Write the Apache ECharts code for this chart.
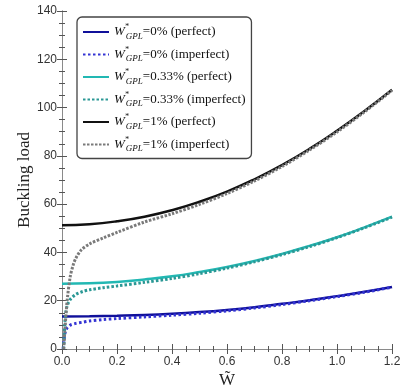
<!DOCTYPE html>
<html>
<head>
<meta charset="utf-8">
<script src="https://cdn.jsdelivr.net/npm/echarts@6/dist/echarts.min.js"></script>
<style>html,body{margin:0;padding:0;background:#fff}#c{width:400px;height:392px}</style>
</head>
<body>
<div id="c"></div>
<script>
// ---- data ----
var seriesNames = ['=0% (perfect)', '=0% (imperfect)', '=0.33% (perfect)', '=0.33% (imperfect)', '=1% (perfect)', '=1% (imperfect)'];
var xTicks = [0, 0.2, 0.4, 0.6, 0.8, 1.0, 1.2];
var yTicks = [0, 20, 40, 60, 80, 100, 120, 140];

var wPerfect = [0, 0.1, 0.2, 0.3, 0.4, 0.5, 0.6, 0.7, 0.8, 0.9, 1.0, 1.1, 1.2];
var gpl0Perfect   = [13.5, 13.6, 13.8, 14.1, 14.6, 15.3, 16.2, 17.3, 18.7, 20.2, 21.9, 23.7, 25.7];
var gpl033Perfect = [27.0, 27.2, 27.8, 28.8, 30.1, 31.9, 34.0, 36.5, 39.4, 42.7, 46.3, 50.4, 54.8];
var gpl1Perfect   = [51.3, 51.7, 52.9, 54.8, 57.5, 61.0, 65.2, 70.3, 76.2, 82.9, 90.4, 98.6, 107.4];

var wImp0 = [0.004, 0.007, 0.011, 0.015, 0.02, 0.03, 0.05, 0.075, 0.1, 0.15, 0.2, 0.3, 0.4, 0.5, 0.6, 0.7, 0.8, 0.9, 1.0, 1.1, 1.2];
var gpl0Imperfect = [0, 3.5, 6.6, 8.0, 9.0, 9.9, 10.6, 11.1, 11.6, 12.2, 12.6, 13.3, 14.0, 14.8, 15.8, 17.0, 18.4, 20.0, 21.7, 23.5, 25.6];

var wImp033 = [0.006, 0.008, 0.011, 0.015, 0.02, 0.03, 0.05, 0.075, 0.1, 0.15, 0.2, 0.3, 0.4, 0.5, 0.6, 0.7, 0.8, 0.9, 1.0, 1.1, 1.2];
var gpl033Imperfect = [0, 5, 12, 16, 18.3, 20.5, 22.6, 23.8, 24.5, 25.4, 26.1, 27.6, 29.2, 31.2, 33.5, 36.1, 39.1, 42.4, 46.1, 50.2, 54.6];

var wImp1 = [0.006, 0.01, 0.015, 0.02, 0.03, 0.04, 0.05, 0.07, 0.1, 0.15, 0.2, 0.3, 0.4, 0.5, 0.6, 0.7, 0.8, 0.9, 1.0, 1.1, 1.2];
var gpl1Imperfect = [0, 7, 15, 21.5, 30, 34.5, 37.5, 41, 43.5, 46, 48.3, 52.6, 56.0, 59.9, 64.4, 69.6, 75.6, 82.4, 89.9, 98.2, 107.1];

function pairs(xs, ys) { return xs.map(function (x, i) { return [x, ys[i]]; }); }

var chart = echarts.init(document.getElementById('c'), null, {renderer: 'canvas'});

var axisLineStyle = {color: '#8a8a8a', width: 1};
var tickStyle = {color: '#555', width: 1};

function lineSeries(name, data, color, width, type, smooth) {
  return {
    name: name, type: 'line', data: data, showSymbol: false, symbol: 'none',
    smooth: smooth, xAxisIndex: 0, yAxisIndex: 0,
    lineStyle: {color: color, width: width, type: type},
    itemStyle: {color: color},
    emphasis: {disabled: true}, animation: false
  };
}

var option = {
  animation: false,
  grid: {left: 62, right: 8, top: 11, bottom: 43, containLabel: false, outerBoundsMode: 'none'},
  legend: {
    orient: 'vertical', left: 77, top: 17,
    borderColor: '#444', borderWidth: 1.3, borderRadius: 5,
    padding: [6, 6, 5, 5], itemWidth: 26, itemHeight: 10, itemGap: 4.5,
    data: seriesNames,
    itemStyle: {opacity: 0},
    formatter: function (n) { return '{w|W}{s|*}{g|GPL}{t|' + n + '}'; },
    textStyle: {
      fontFamily: 'Liberation Serif', fontSize: 13, color: '#111',
      rich: {
        w: {fontFamily: 'Liberation Serif', fontStyle: 'italic', fontSize: 13, lineHeight: 18, color: '#111'},
        s: {fontFamily: 'Liberation Serif', fontStyle: 'italic', fontSize: 8, lineHeight: 9, verticalAlign: 'top', color: '#111', width: 1},
        g: {fontFamily: 'Liberation Serif', fontStyle: 'italic', fontSize: 9, lineHeight: 9, verticalAlign: 'bottom', color: '#111'},
        t: {fontFamily: 'Liberation Serif', fontSize: 13, lineHeight: 18, color: '#111'}
      }
    }
  },
  xAxis: [{
    type: 'value', min: 0, max: 1.2, interval: 0.2, position: 'bottom',
    name: 'W\u0303', nameLocation: 'middle', nameGap: 23, nameMoveOverlap: false,
    nameTextStyle: {fontFamily: 'Liberation Serif', fontSize: 17, color: '#222'},
    axisLine: {show: true, lineStyle: axisLineStyle},
    axisTick: {show: true, inside: true, length: 5, lineStyle: tickStyle},
    minorTick: {show: true, splitNumber: 4, length: 3, lineStyle: tickStyle},
    splitLine: {show: false},
    axisLabel: {fontFamily: 'Liberation Sans', fontSize: 12, color: '#333', margin: 7,
      formatter: function (v) { return v.toFixed(1); }}
  }, {
    type: 'value', min: 0, max: 1.2, interval: 0.2, position: 'top',
    axisLine: {show: true, lineStyle: axisLineStyle},
    axisTick: {show: true, inside: true, length: 5, lineStyle: tickStyle},
    minorTick: {show: true, splitNumber: 4, length: 3, lineStyle: tickStyle},
    splitLine: {show: false}, axisLabel: {show: false}
  }],
  yAxis: [{
    type: 'value', min: 0, max: 140, interval: 20, position: 'left',
    name: 'Buckling load', nameLocation: 'middle', nameGap: 29, nameRotate: 90, nameMoveOverlap: false,
    nameTextStyle: {fontFamily: 'Liberation Serif', fontSize: 17, color: '#222'},
    axisLine: {show: true, lineStyle: axisLineStyle},
    axisTick: {show: true, inside: true, length: 5, lineStyle: tickStyle},
    minorTick: {show: true, splitNumber: 4, length: 3, lineStyle: tickStyle},
    splitLine: {show: false},
    axisLabel: {fontFamily: 'Liberation Sans', fontSize: 12, color: '#333', margin: 5}
  }, {
    type: 'value', min: 0, max: 140, interval: 20, position: 'right',
    axisLine: {show: true, lineStyle: axisLineStyle},
    axisTick: {show: true, inside: true, length: 5, lineStyle: tickStyle},
    minorTick: {show: true, splitNumber: 4, length: 3, lineStyle: tickStyle},
    splitLine: {show: false}, axisLabel: {show: false}
  }],
  series: [
    lineSeries(seriesNames[0], pairs(wPerfect, gpl0Perfect), '#10109a', 2.5, 'solid', true),
    lineSeries(seriesNames[1], pairs(wImp0, gpl0Imperfect), '#3434d4', 3, [2.5, 2.5], 0.3),
    lineSeries(seriesNames[2], pairs(wPerfect, gpl033Perfect), '#22b8b3', 2.5, 'solid', true),
    lineSeries(seriesNames[3], pairs(wImp033, gpl033Imperfect), '#2b9895', 3, [2.5, 2], 0.3),
    lineSeries(seriesNames[4], pairs(wPerfect, gpl1Perfect), '#111111', 2.5, 'solid', true),
    lineSeries(seriesNames[5], pairs(wImp1, gpl1Imperfect), '#7a7a7a', 3, [2.5, 1.5], 0.3)
  ]
};
chart.setOption(option);
</script>
</body>
</html>
